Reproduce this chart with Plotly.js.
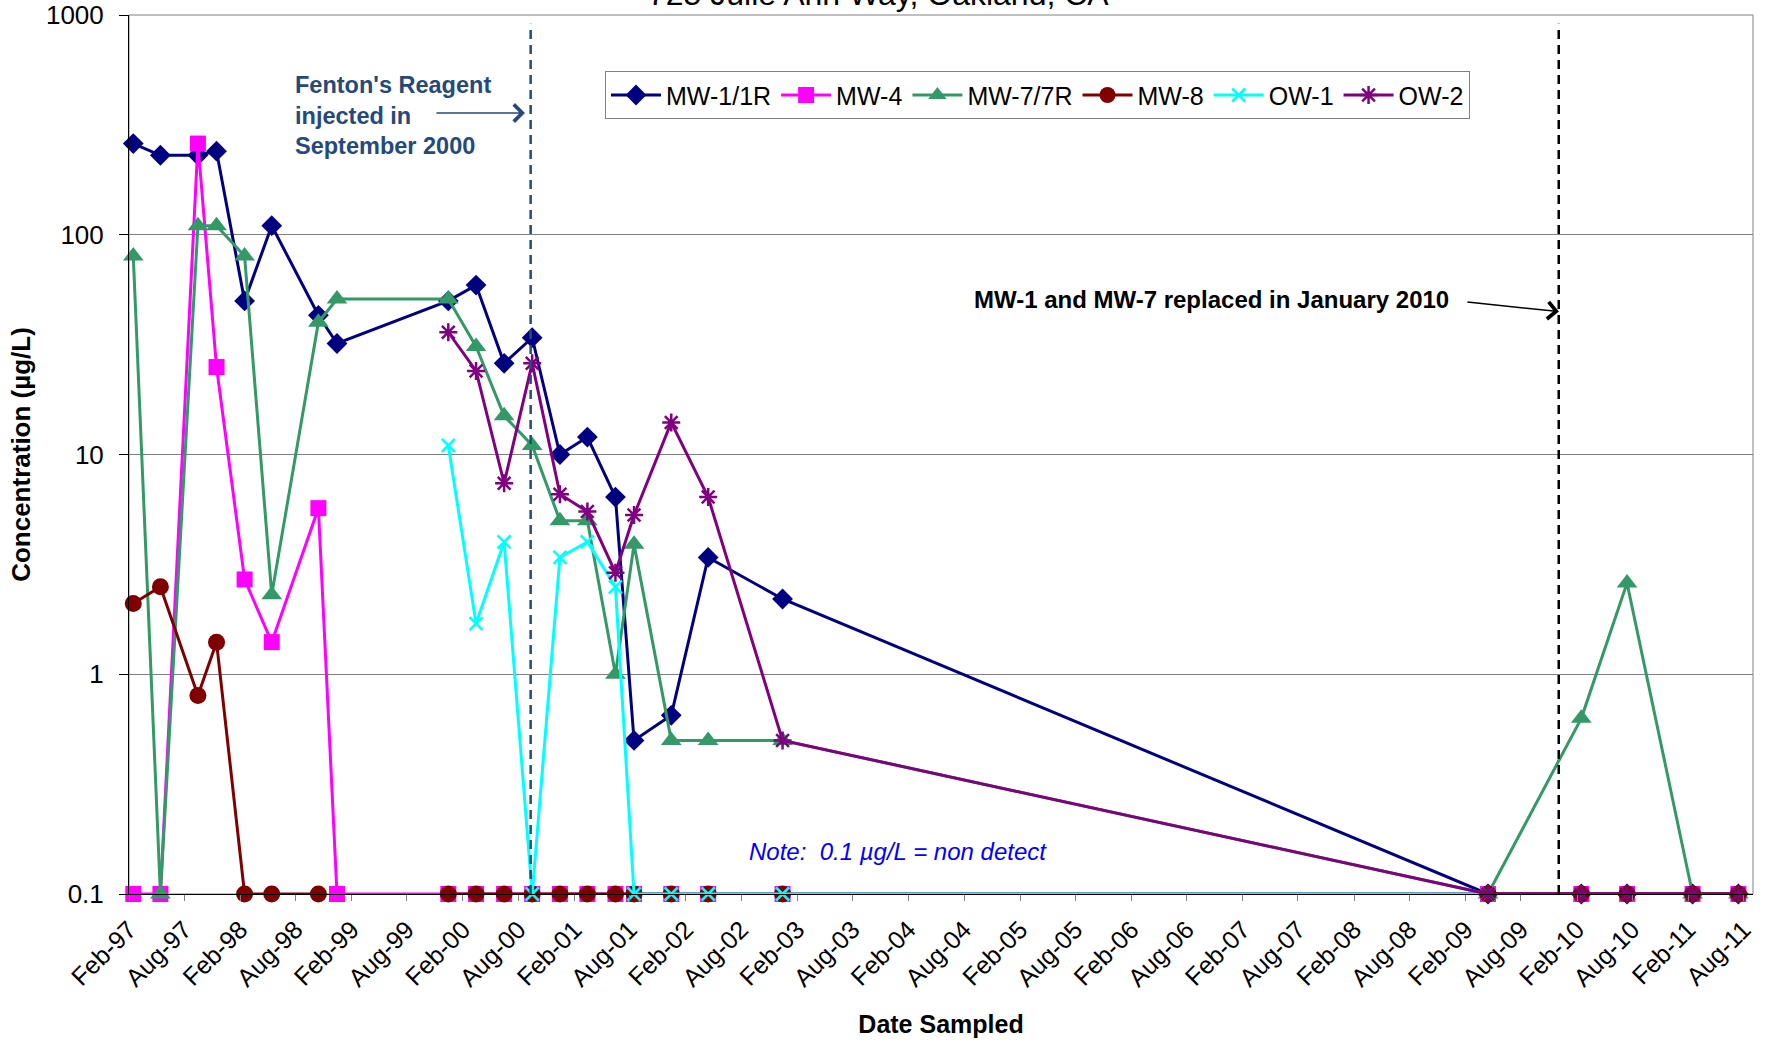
<!DOCTYPE html>
<html>
<head>
<meta charset="utf-8">
<script src="https://cdn.plot.ly/plotly-3.0.1.min.js"></script>
<style>
  html, body { margin: 0; padding: 0; background: #ffffff; }
  #chart { width: 1767px; height: 1040px; }
</style>
</head>
<body>
<div id="chart"></div>
<script>
// ---- Data ----
var sampleDates = [
  '1997-02-15', '1997-05-15', '1997-09-15', '1997-11-15', '1998-02-15', '1998-05-15',
  '1998-10-15', '1998-12-15', '1999-12-15', '2000-03-15', '2000-06-15', '2000-09-15',
  '2000-12-15', '2001-03-15', '2001-06-15', '2001-08-15', '2001-12-15', '2002-04-15',
  '2002-12-15', '2009-04-15', '2010-02-15', '2010-07-15', '2011-02-15', '2011-07-15'
];

var mw1 = [260, 230, 230, 240, 50, 110, 43, 32, 50, 59, 26, 34,
           10, 12, 6.4, 0.5, 0.65, 3.4, 2.2, 0.1, 0.1, 0.1, 0.1, 0.1];
var mw4 = [0.1, 0.1, 260, 25, 2.7, 1.4, 5.7, 0.1, 0.1, 0.1, 0.1, 0.1,
           0.1, 0.1, 0.1, 0.1, 0.1, 0.1, 0.1, 0.1, 0.1, 0.1, 0.1, 0.1];
var mw7 = [80, 0.1, 110, 110, 80, 2.3, 40, 51, 51, 31, 15, 11,
           5, 5, 1.0, 3.9, 0.5, 0.5, 0.5, 0.1, 0.63, 2.6, 0.1, 0.1];
var mw8 = [2.1, 2.5, 0.8, 1.4, 0.1, 0.1, 0.1, null, 0.1, 0.1, 0.1, 0.1,
           0.1, 0.1, 0.1, 0.1, 0.1, 0.1, 0.1, 0.1, 0.1, 0.1, 0.1, 0.1];
var ow1 = [null, null, null, null, null, null, null, null, 11, 1.7, 4.0, 0.1,
           3.4, 4.0, 2.5, 0.1, 0.1, 0.1, 0.1, 0.1, null, null, null, null];
var ow2 = [null, null, null, null, null, null, null, null, 36, 24, 7.4, 26,
           6.6, 5.5, 2.9, 5.3, 14, 6.4, 0.5, 0.1, 0.1, 0.1, 0.1, 0.1];

var seriesNames = ['MW-1/1R', 'MW-4', 'MW-7/7R', 'MW-8', 'OW-1', 'OW-2'];

var xTickText = [
  'Feb-97', 'Aug-97', 'Feb-98', 'Aug-98', 'Feb-99', 'Aug-99', 'Feb-00', 'Aug-00',
  'Feb-01', 'Aug-01', 'Feb-02', 'Aug-02', 'Feb-03', 'Aug-03', 'Feb-04', 'Aug-04',
  'Feb-05', 'Aug-05', 'Feb-06', 'Aug-06', 'Feb-07', 'Aug-07', 'Feb-08', 'Aug-08',
  'Feb-09', 'Aug-09', 'Feb-10', 'Aug-10', 'Feb-11', 'Aug-11'
];
var yTickVals = [0.1, 1, 10, 100, 1000];
var yTickText = ['0.1', '1', '10', '100', '1000'];

var eventDates = ['2000-09-10', '2009-12-03'];   // Fenton's injection, well replacement

// ---- Build ----
function labelToDate(lbl) {
  var mon = lbl.slice(0, 3) === 'Feb' ? '02' : '08';
  var yy = parseInt(lbl.slice(4), 10);
  var yr = yy > 50 ? 1900 + yy : 2000 + yy;
  return yr + '-' + mon + '-01';
}
var xTickVals = xTickText.map(labelToDate);

var FONT = 'Liberation Sans, Arial, sans-serif';
var LW = 3;

var styles = [
  {color: '#000080', symbol: 'diamond', size: 16},
  {color: '#FF00FF', symbol: 'square', size: 16},
  {color: '#339966', symbol: 'triangle-up', size: 18},
  {color: '#800000', symbol: 'circle', size: 17},
  {color: '#00FFFF', symbol: 'x-thin-open', size: 13},
  {color: '#800080', symbol: 'asterisk-open', size: 15}
];
var values = [mw1, mw4, mw7, mw8, ow1, ow2];

var traces = values.map(function (v, i) {
  var s = styles[i];
  var open = s.symbol.indexOf('open') >= 0;
  return {
    type: 'scatter',
    mode: 'lines+markers',
    name: seriesNames[i],
    x: sampleDates,
    y: v,
    connectgaps: false,
    cliponaxis: false,
    line: {color: s.color, width: LW},
    marker: {
      color: s.color,
      symbol: s.symbol,
      size: s.size,
      line: {color: s.color, width: open ? 2.5 : 0}
    }
  };
});

var layout = {
  width: 1767,
  height: 1040,
  margin: {l: 129, r: 14, t: 15, b: 146},
  paper_bgcolor: '#ffffff',
  plot_bgcolor: '#ffffff',
  font: {family: FONT, color: '#000000', size: 22},
  showlegend: true,
  legend: {
    orientation: 'h',
    x: 0.2931, xanchor: 'left',
    y: 0.936, yanchor: 'top',
    font: {family: FONT, size: 25, color: '#000000'},
    bgcolor: '#ffffff',
    bordercolor: '#808080',
    borderwidth: 1,
    itemwidth: 50,
    tracegroupgap: 0
  },
  xaxis: {
    type: 'date',
    range: ['1997-02-01', '2011-09-01'],
    tickmode: 'array',
    tickvals: xTickVals,
    ticktext: xTickText,
    tickangle: -45,
    tickfont: {family: FONT, size: 25, color: '#000000'},
    ticks: 'outside',
    ticklen: 6,
    tickcolor: '#808080',
    ticklabelstandoff: 4,
    showline: true,
    linecolor: '#000000',
    linewidth: 1,
    showgrid: false,
    zeroline: false,
    automargin: false,
    title: {text: '<b>Date Sampled</b>', font: {family: FONT, size: 25, color: '#000000'}, standoff: 24}
  },
  yaxis: {
    type: 'log',
    range: [-1, 3],
    tickmode: 'array',
    tickvals: yTickVals,
    ticktext: yTickText,
    tickfont: {family: FONT, size: 26, color: '#000000'},
    ticks: 'outside',
    ticklen: 9,
    tickcolor: '#000000',
    ticklabelstandoff: 10,
    showline: true,
    linecolor: '#000000',
    linewidth: 1,
    showgrid: true,
    gridcolor: '#808080',
    gridwidth: 1,
    zeroline: false,
    automargin: false,
    title: {text: '<b>Concentration (µg/L)</b>', font: {family: FONT, size: 26, color: '#000000'}, standoff: 7}
  },
  shapes: [
    {type: 'rect', xref: 'paper', yref: 'paper', x0: 0, x1: 1, y0: 0, y1: 1,
     line: {color: '#808080', width: 1}, layer: 'below'},
    {type: 'line', xref: 'x', yref: 'paper', x0: eventDates[0], x1: eventDates[0], y0: 0, y1: 0.99,
     line: {color: '#1F4E79', width: 2.5, dash: '9px,6px'}},
    {type: 'line', xref: 'x', yref: 'paper', x0: eventDates[1], x1: eventDates[1], y0: 0, y1: 0.99,
     line: {color: '#000000', width: 2.5, dash: '9px,6px'}}
  ],
  annotations: [
    {text: '725 Julie Ann Way, Oakland, CA', xref: 'paper', yref: 'paper',
     x: 0.4618, y: 1.0235, xanchor: 'center', yanchor: 'middle', showarrow: false,
     font: {family: FONT, size: 32, color: '#000000'}},
    {text: "<b>Fenton's Reagent<br>injected in<br>September 2000</b>", xref: 'paper', yref: 'paper',
     x: 0.1012, y: 0.886, xanchor: 'left', yanchor: 'middle', align: 'left', showarrow: false,
     font: {family: FONT, size: 23.5, color: '#24497C'}},
    {text: ' ', xref: 'paper', yref: 'paper', x: 0.2438, y: 0.8885,
     showarrow: true, ax: -93, ay: 0, arrowhead: 4, arrowsize: 2.2, arrowwidth: 1.5, arrowcolor: '#24497C'},
    {text: '<b>MW-1 and MW-7 replaced in January 2010</b>', xref: 'paper', yref: 'paper',
     x: 0.519, y: 0.6758, xanchor: 'left', yanchor: 'middle', showarrow: false,
     font: {family: FONT, size: 24, color: '#000000'}},
    {text: ' ', xref: 'paper', yref: 'paper', x: 0.8805, y: 0.6626,
     showarrow: true, ax: -96, ay: -10, arrowhead: 4, arrowsize: 2.2, arrowwidth: 1.5, arrowcolor: '#000000'},
    {text: '<i>Note:  0.1 µg/L = non detect</i>', xref: 'paper', yref: 'paper',
     x: 0.4735, y: 0.0478, xanchor: 'center', yanchor: 'middle', showarrow: false,
     font: {family: FONT, size: 24, color: '#0000FF'}}
  ]
};

Plotly.newPlot('chart', traces, layout, {displayModeBar: false, staticPlot: true});
</script>
</body>
</html>
